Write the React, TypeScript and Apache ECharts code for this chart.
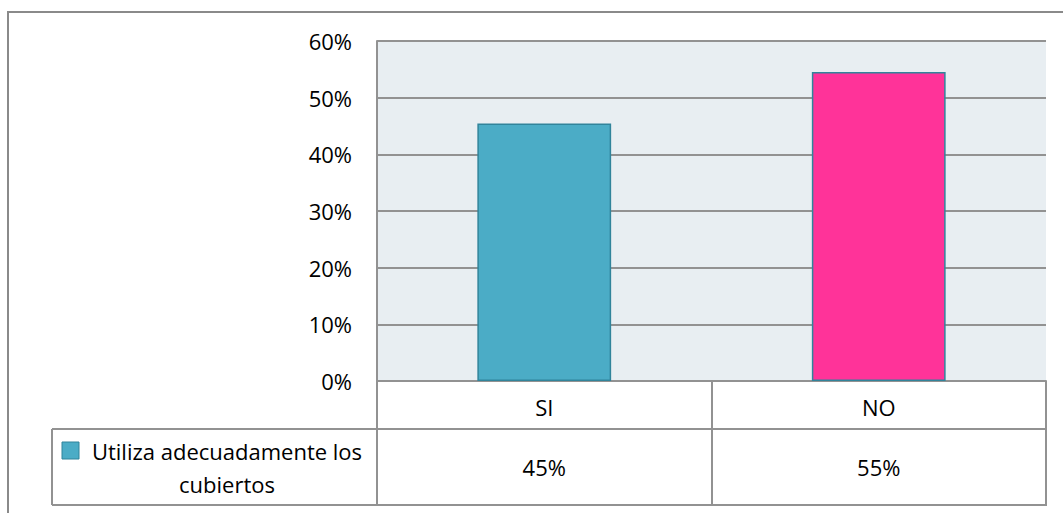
import React, { useEffect, useRef } from "react";
import * as echarts from "echarts";

const categories = ["SI", "NO"];
const values = [45.45, 54.55];
const seriesName = "Utiliza adecuadamente los cubiertos";
const barColors = ["#4BACC6", "#FF3399"];
const yTicks = { min: 0, max: 60, interval: 10 };

const FONT = "'Open Sans', 'Noto Sans', sans-serif";
const FONT_SIZE = 22;
const LINE = "#929292";

export default function App() {
  const ref = useRef<HTMLDivElement>(null);

  useEffect(() => {
    if (!ref.current) return;
    const chart = echarts.init(ref.current, null, { renderer: "svg" });

    const W = 1063;
    const gridLeft = 377;
    const gridRight = 1046;
    const gridTop = 41;
    const axisY = 381;
    const rowY = 429;
    const tableBottom = 505;
    const legendLeft = 52;

    const labelStyle = {
      color: "#000",
      fontSize: FONT_SIZE,
      fontFamily: FONT,
      fontWeight: "normal" as const,
    };

    chart.setOption({
      animation: false,
      textStyle: { fontFamily: FONT },
      grid: {
        left: gridLeft,
        right: W - gridRight,
        top: gridTop,
        bottom: 513 - axisY,
        show: true,
        backgroundColor: "#E8EEF2",
        borderWidth: 0,
      },
      xAxis: [
        {
          type: "category",
          data: categories,
          position: "bottom",
          axisLine: { show: true, lineStyle: { color: LINE, width: 2 } },
          axisTick: {
            show: true,
            length: tableBottom - axisY,
            lineStyle: { color: LINE, width: 2 },
          },
          axisLabel: { ...labelStyle, margin: 26, verticalAlign: "middle" },
          splitLine: { show: false },
        },
        {
          type: "category",
          data: categories,
          position: "bottom",
          offset: rowY - axisY,
          axisLine: { show: false },
          axisTick: { show: false },
          axisLabel: {
            ...labelStyle,
            margin: 38,
            verticalAlign: "middle",
            formatter: (_v: string, i: number) => `${Math.round(values[i])}%`,
          },
        },
      ],
      yAxis: {
        type: "value",
        min: yTicks.min,
        max: yTicks.max,
        interval: yTicks.interval,
        axisLine: { show: true, lineStyle: { color: LINE, width: 2 } },
        axisTick: { show: false },
        axisLabel: { ...labelStyle, formatter: "{value}%", margin: 25 },
        splitLine: { show: true, lineStyle: { color: LINE, width: 2 } },
      },
      series: [
        {
          name: seriesName,
          type: "bar",
          barWidth: "40%",
          data: values.map((v, i) => ({
            value: v,
            itemStyle: {
              color: barColors[i],
              borderColor: "#31849B",
              borderWidth: 1.5,
            },
          })),
        },
      ],
      graphic: [
        // outer chart frame
        {
          type: "rect",
          shape: { x: 8, y: 12, width: 1200, height: 700 },
          style: { fill: "none", stroke: "#8A8A8A", lineWidth: 2 },
          z: -10,
        },
        // data table rules
        {
          type: "line",
          shape: { x1: legendLeft, y1: rowY, x2: gridRight + 1, y2: rowY },
          style: { stroke: LINE, lineWidth: 2 },
        },
        {
          type: "line",
          shape: { x1: legendLeft, y1: tableBottom, x2: gridRight + 1, y2: tableBottom },
          style: { stroke: LINE, lineWidth: 2 },
        },
        {
          type: "line",
          shape: { x1: legendLeft, y1: rowY, x2: legendLeft, y2: tableBottom },
          style: { stroke: LINE, lineWidth: 2 },
        },
        // legend key inside the table
        {
          type: "rect",
          shape: { x: 62, y: 442, width: 17, height: 17 },
          style: { fill: barColors[0], stroke: "#31849B", lineWidth: 1 },
        },
        {
          type: "text",
          x: 227,
          y: 467,
          style: {
            text: "Utiliza adecuadamente los\ncubiertos",
            fontFamily: FONT,
            fontSize: FONT_SIZE,
            fill: "#000",
            align: "center",
            verticalAlign: "middle",
            lineHeight: 33,
          },
        },
      ],
    });

    return () => chart.dispose();
  }, []);

  return (
    <div
      ref={ref}
      style={{ position: "absolute", left: 0, top: 0, width: 1063, height: 513, background: "#fff" }}
    />
  );
}
